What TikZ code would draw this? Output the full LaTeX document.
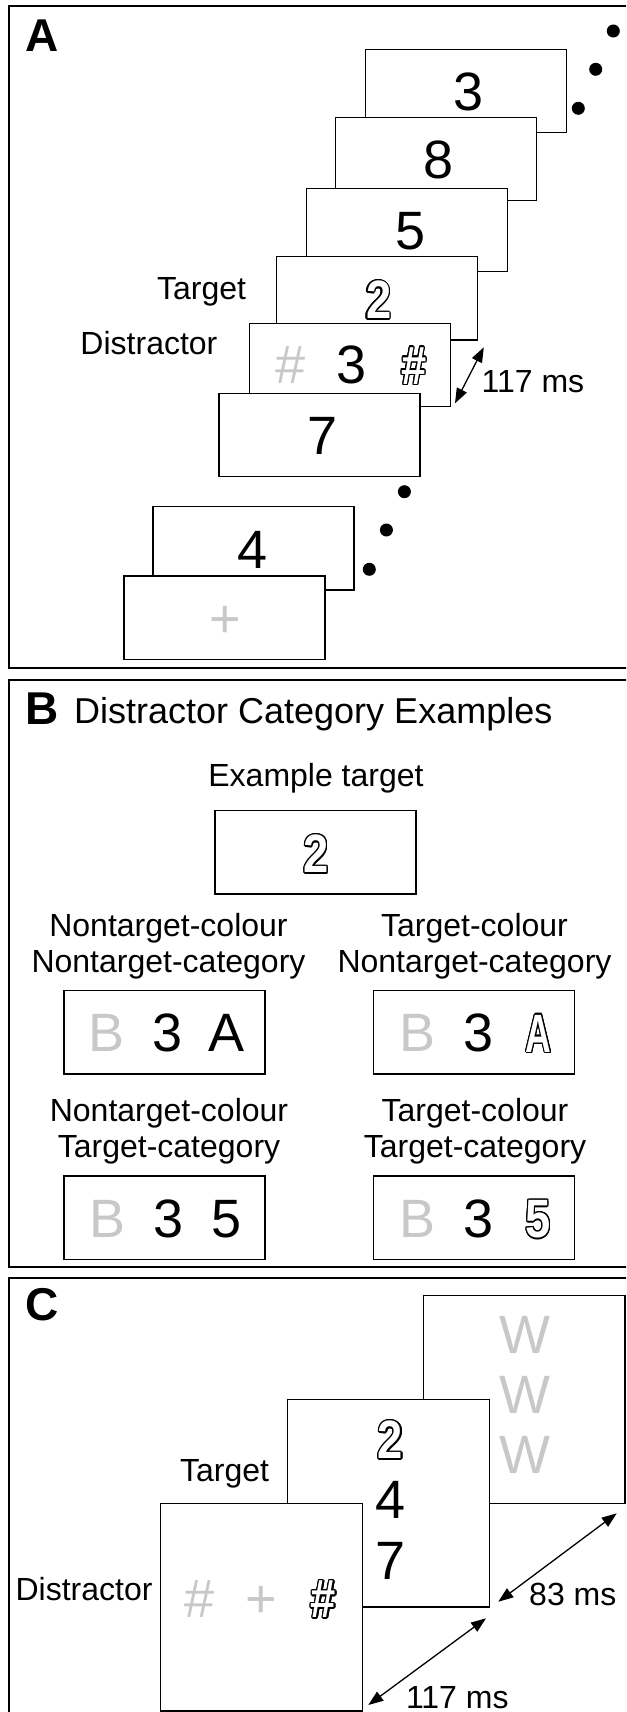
\documentclass[tikz,border=0pt]{standalone}
\usepackage{fontspec}
\usepackage{graphicx}
\setmainfont{Liberation Sans}
\usetikzlibrary{arrows.meta,calc}
\definecolor{lgray}{RGB}{200,200,200}
\newlength\ollen
\setlength\ollen{1.5pt}
\newbox\olbox
\newcommand\olcp[2]{\rlap{\hspace*{#1\ollen}\raisebox{#2\ollen}{\copy\olbox}}}
\newcommand\outlined[1]{{\setbox\olbox=\hbox{#1}%
  \color{black}%
  \olcp{1}{0}\olcp{0.924}{0.383}\olcp{0.707}{0.707}\olcp{0.383}{0.924}%
  \olcp{0}{1}\olcp{-0.383}{0.924}\olcp{-0.707}{0.707}\olcp{-0.924}{0.383}%
  \olcp{-1}{0}\olcp{-0.924}{-0.383}\olcp{-0.707}{-0.707}\olcp{-0.383}{-0.924}%
  \olcp{0}{-1}\olcp{0.383}{-0.924}\olcp{0.707}{-0.707}\olcp{0.924}{-0.383}%
  \color{white}\copy\olbox}}
\newcommand\olg[1]{\scalebox{0.84}[1]{\outlined{#1}}}
\newcommand\olgn[1]{\scalebox{0.66}[1]{\outlined{#1}}}
\tikzset{
  panelframe/.style={draw, line width=1.8pt},
  stim/.style={draw, fill=white, line width=1.4pt, inner sep=0pt, outer sep=0pt,
    minimum width=201pt, minimum height=83.3pt, anchor=north west},
  tallstim/.style={stim, minimum width=201.5pt, minimum height=207.7pt},
  glyph/.style={inner sep=0pt, anchor=base, font=\fontsize{54}{60}\selectfont},
  grayglyph/.style={glyph, text=lgray},
  olglyph/.style={inner sep=0pt, anchor=base, font=\fontsize{54}{60}\selectfont\bfseries},
  lbl/.style={inner sep=0pt, font=\fontsize{32}{38}\selectfont},
  titlelbl/.style={inner sep=0pt, font=\fontsize{36}{42}\selectfont},
  panellbl/.style={inner sep=0pt, anchor=base west, font=\fontsize{46}{50}\selectfont\bfseries},
  dotmark/.style={circle, fill=black, inner sep=0pt, minimum size=13pt},
  dur/.style={{Triangle[length=15pt,width=11pt]}-{Triangle[length=15pt,width=11pt]}, line width=1.3pt},
}
\begin{document}
\begin{tikzpicture}[x=1pt,y=-1pt]
\useasboundingbox (0,0) rectangle (626,1712);
\fill[white] (0,0) rectangle (626,1712);
\clip (0,0) rectangle (626,1712);

% ---------------- Panel A ----------------
\draw[panelframe] (9,6) rectangle (645,668.3);
\node[panellbl] (lA) at (25,52) {A};
\node[dotmark] (dA1) at (613.3,31) {};
\node[dotmark] (dA2) at (595.7,69.3) {};
\node[dotmark] (dA3) at (578.3,108.3) {};

\node[stim] (s3) at (365.3,49.3) {};
\node[glyph] (g3) at ($(s3.north)+(3,61.5)$) {3};
\node[stim] (s8) at (335.3,117.3) {};
\node[glyph] (g8) at ($(s8.north)+(3,61.5)$) {8};
\node[stim] (s5) at (306.6,188.3) {};
\node[glyph] (g5) at ($(s5.north)+(3,61.5)$) {5};
\node[stim] (s2) at (276.2,256.7) {};
\node[olglyph] (g2) at ($(s2.north)+(2,62)$) {\olg{2}};
\node[stim] (sD) at (249.5,323.3) {};
\node[grayglyph] (gDl) at ($(sD.north)+(-59,60.5)$) {\#};
\node[glyph] (gDm) at ($(sD.north)+(2,60.5)$) {3};
\node[olglyph] (gDr) at ($(sD.north)+(64,61)$) {\olg{\#}};
\node[stim] (s7) at (218.8,393.3) {};
\node[glyph] (g7) at ($(s7.north)+(3,61.5)$) {7};

\node[lbl, anchor=base east] (tgtA) at (246.3,299.3) {Target};
\node[lbl, anchor=base east] (disA) at (217.6,354) {Distractor};
\coordinate (aAs) at (455,403.3);
\coordinate (aAe) at (483.8,347.3);
\draw[dur] (aAs) -- (aAe);
\node[lbl, anchor=base west] (msA) at (481.5,392) {117 ms};

\node[dotmark] (dA4) at (404.4,491.7) {};
\node[dotmark] (dA5) at (386.4,530) {};
\node[dotmark] (dA6) at (369.3,569.3) {};

\node[stim] (s4) at (152.9,506.7) {};
\node[glyph] (g4) at ($(s4.north)+(-1,61.5)$) {4};
\node[stim] (sP) at (123.8,576) {};
\node[grayglyph] (gP) at ($(sP.north)+(1,61)$) {+};

% ---------------- Panel B ----------------
\draw[panelframe] (9,680) rectangle (645,1267);
\node[panellbl] (lB) at (25,724) {B};
\node[titlelbl, anchor=base west] (titleB) at (74,723.5) {Distractor Category Examples};
\node[lbl, anchor=base] (exl) at (316,786.7) {Example target};
\node[stim] (ex) at (214.8,810.7) {};
\node[olglyph] (ex2) at ($(ex.north)+(1,62)$) {\olg{2}};

\node[lbl, anchor=base] (c1a) at (168.5,936.5) {Nontarget-colour};
\node[lbl, anchor=base] (c1b) at (168.5,972) {Nontarget-category};
\node[lbl, anchor=base] (c2a) at (474.5,936.5) {Target-colour};
\node[lbl, anchor=base] (c2b) at (474.5,972) {Nontarget-category};

\node[stim] (e1) at (64,990.7) {};
\node[grayglyph] (e1l) at ($(e1.north)+(-58,61)$) {B};
\node[glyph] (e1m) at ($(e1.north)+(3.5,61)$) {3};
\node[glyph] (e1r) at ($(e1.north)+(62.5,61)$) {A};
\node[stim] (e2) at (373.2,990.7) {};
\node[grayglyph] (e2l) at ($(e2.north)+(-56.5,61)$) {B};
\node[glyph] (e2m) at ($(e2.north)+(5,61)$) {3};
\node[olglyph] (e2r) at ($(e2.north)+(65,61.5)$) {\olgn{A}};

\node[lbl, anchor=base] (c3a) at (169,1121.5) {Nontarget-colour};
\node[lbl, anchor=base] (c3b) at (169,1157) {Target-category};
\node[lbl, anchor=base] (c4a) at (475,1121.5) {Target-colour};
\node[lbl, anchor=base] (c4b) at (475,1157) {Target-category};

\node[stim] (e3) at (64,1176) {};
\node[grayglyph] (e3l) at ($(e3.north)+(-57,61)$) {B};
\node[glyph] (e3m) at ($(e3.north)+(4,61)$) {3};
\node[glyph] (e3r) at ($(e3.north)+(62.5,61)$) {5};
\node[stim] (e4) at (373.2,1176) {};
\node[grayglyph] (e4l) at ($(e4.north)+(-56,61)$) {B};
\node[glyph] (e4m) at ($(e4.north)+(5,61)$) {3};
\node[olglyph] (e4r) at ($(e4.north)+(64.5,61.5)$) {\olg{5}};

% ---------------- Panel C ----------------
\draw[panelframe] (9,1277.7) rectangle (645,1740);
\node[panellbl] (lC) at (25,1320) {C};

\node[tallstim] (cW) at (423.3,1295.7) {};
\node[grayglyph] (w1) at ($(cW.north)+(1,58)$) {W};
\node[grayglyph] (w2) at ($(cW.north)+(1,118)$) {W};
\node[grayglyph] (w3) at ($(cW.north)+(1,178)$) {W};

\node[tallstim] (cT) at (287.7,1399.3) {};
\node[olglyph] (t1) at ($(cT.north)+(2,59.5)$) {\olg{2}};
\node[glyph] (t2) at ($(cT.north)+(2,119)$) {4};
\node[glyph] (t3) at ($(cT.north)+(2,180)$) {7};

\node[tallstim] (cD) at (160.7,1503.3) {};
\node[grayglyph] (dl) at ($(cD.north)+(-61.5,114)$) {\#};
\node[grayglyph] (dm) at ($(cD.north)+(0,114)$) {+};
\node[olglyph] (dr) at ($(cD.north)+(62,114.5)$) {\olg{\#}};

\node[lbl, anchor=base east] (tgtC) at (269.3,1481.7) {Target};
\node[lbl, anchor=base east] (disC) at (152.7,1600) {Distractor};

\coordinate (aC1s) at (498.3,1601.7);
\coordinate (aC1e) at (616.7,1513.3);
\draw[dur] (aC1s) -- (aC1e);
\node[lbl, anchor=base west] (ms83) at (529,1605) {83 ms};

\coordinate (aC2s) at (368.3,1705);
\coordinate (aC2e) at (486,1618.3);
\draw[dur] (aC2s) -- (aC2e);
\node[lbl, anchor=base west] (ms117C) at (405.8,1708.5) {117 ms};
\end{tikzpicture}
\end{document}
